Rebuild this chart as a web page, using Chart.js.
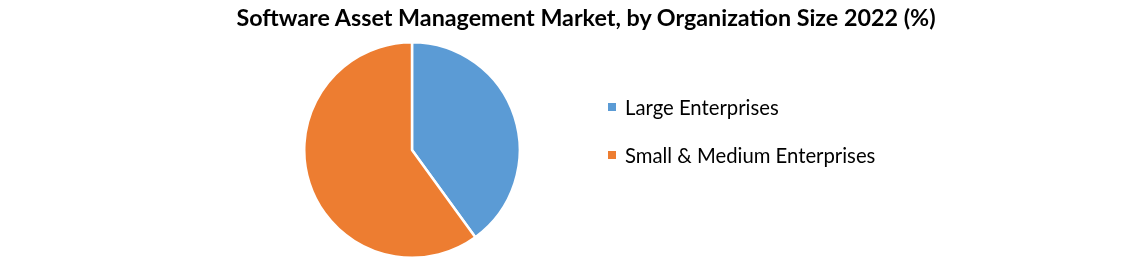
<!DOCTYPE html>
<html>
<head>
<meta charset="utf-8">
<script src="https://cdn.jsdelivr.net/npm/chart.js@4.4.0/dist/chart.umd.min.js"></script>
<style>
  html, body { margin: 0; padding: 0; background: #ffffff; }
  #wrap { position: relative; width: 1132px; height: 260px; overflow: hidden; }
  #chart { position: absolute; left: 0; top: 0; }
  #title { position: absolute; left: 0; width: 1172px; top: 3px; text-align: center;
    font-family: Lato, "Open Sans", sans-serif; font-weight: bold; font-size: 23.3px; color: #000; white-space: nowrap; }
  #legend { position: absolute; left: 608px; top: 94px; font-family: Lato, "Open Sans", sans-serif; font-size: 20.3px; color: #000; }
  .item { display: flex; align-items: center; height: 26px; margin-bottom: 22px; white-space: nowrap; }
  .sw { width: 8px; height: 8px; margin-right: 9px; flex: none; }
</style>
</head>
<body>
<div id="wrap">
  <canvas id="chart" width="1132" height="260"></canvas>
  <div id="title"></div>
  <div id="legend"></div>
</div>
<script>
const titleText = "Software Asset Management Market, by Organization Size 2022 (%)";
const categories = ["Large Enterprises", "Small & Medium Enterprises"];
const shares = [40, 60];
const colors = ["#5B9BD5", "#ED7D31"];

document.getElementById('title').textContent = titleText;
const legend = document.getElementById('legend');
categories.forEach((c, i) => {
  const d = document.createElement('div');
  d.className = 'item';
  const s = document.createElement('span');
  s.className = 'sw';
  s.style.background = colors[i];
  const t = document.createElement('span');
  t.textContent = c;
  d.appendChild(s); d.appendChild(t);
  legend.appendChild(d);
});

new Chart(document.getElementById('chart'), {
  type: 'pie',
  data: {
    labels: categories,
    datasets: [{
      data: shares,
      backgroundColor: colors,
      borderColor: '#ffffff',
      borderWidth: 2.5
    }]
  },
  options: {
    responsive: false,
    animation: false,
    layout: { padding: { left: 303, right: 611, top: 41, bottom: 1 } },
    plugins: { legend: { display: false }, title: { display: false }, tooltip: { enabled: false } }
  }
});
</script>
</body>
</html>
